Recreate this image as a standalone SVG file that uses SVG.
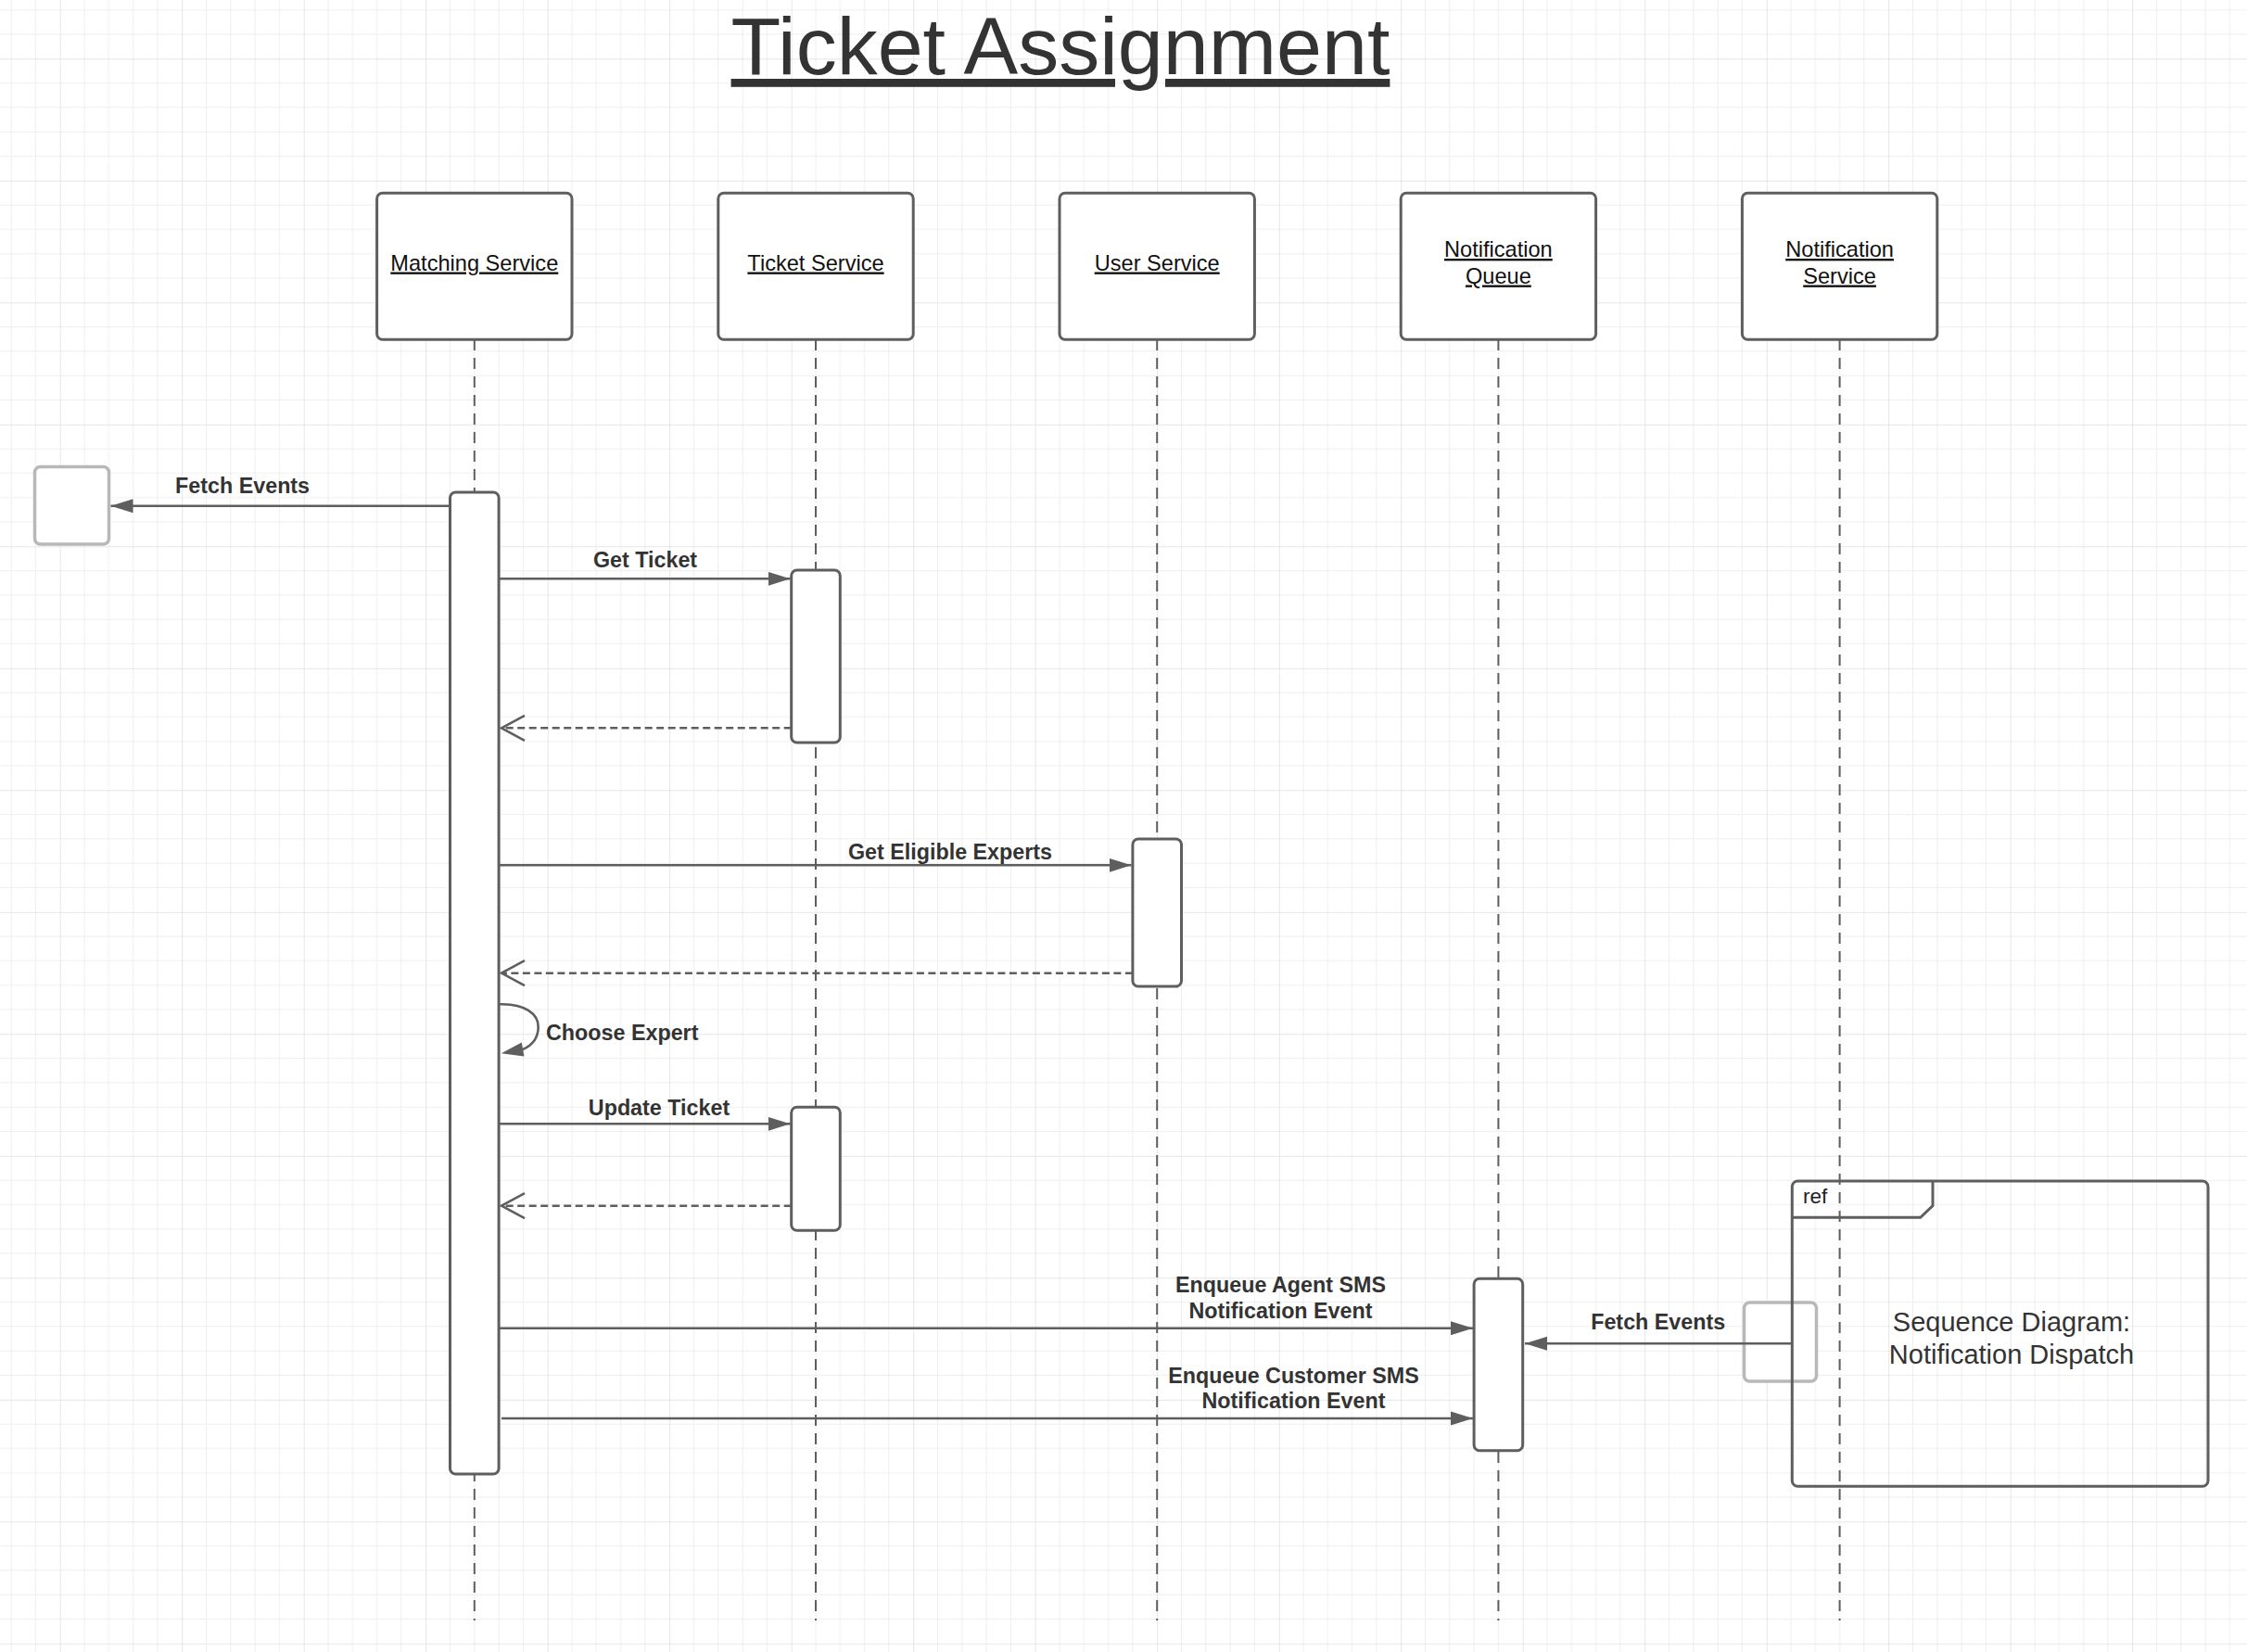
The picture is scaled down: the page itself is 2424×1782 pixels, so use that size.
<svg xmlns="http://www.w3.org/2000/svg" width="2424" height="1782" viewBox="0 0 2424 1782">
<defs>
<style>
.box{fill:#ffffff;stroke:#5e5e5e;stroke-width:3}
.act{fill:#ffffff;stroke:#5e5e5e;stroke-width:3}
.ghost{fill:#ffffff;stroke:#b8b8b8;stroke-width:3.5}
.life{fill:none;stroke:#5e5e5e;stroke-width:2;stroke-dasharray:12 8}
.msg{fill:none;stroke:#5e5e5e;stroke-width:2.6}
.ret{fill:none;stroke:#5e5e5e;stroke-width:2.6;stroke-dasharray:8 4.5}
.plabel{font-family:"Liberation Sans",Arial,sans-serif;font-size:23.6px;fill:#111111;text-anchor:middle;text-decoration:underline;text-decoration-skip-ink:none}
.mlabel{font-family:"Liberation Sans",Arial,sans-serif;font-size:23.3px;font-weight:bold;fill:#333333;text-anchor:middle}
.title{font-family:"Liberation Sans",Arial,sans-serif;font-size:88px;fill:#333333;text-anchor:middle;text-decoration:underline;text-decoration-skip-ink:none}
.reftext{font-family:"Liberation Sans",Arial,sans-serif;font-size:29px;fill:#333333;text-anchor:middle}
</style>
<pattern id="grid" patternUnits="userSpaceOnUse" x="64.7" y="63.3" width="131.5" height="131.5">
<path d="M26.3,0 V131.5 M52.6,0 V131.5 M78.9,0 V131.5 M105.2,0 V131.5 M0,26.3 H131.5 M0,52.6 H131.5 M0,78.9 H131.5 M0,105.2 H131.5" stroke="#eeeeee" stroke-width="1" fill="none"/>
<path d="M0,0 V131.5 M0,0 H131.5" stroke="#dedede" stroke-width="1.5" fill="none"/>
</pattern>
<marker id="filled" markerUnits="userSpaceOnUse" viewBox="0 0 25 16" markerWidth="25" markerHeight="16" refX="24" refY="8" orient="auto">
<path d="M0,0.5 L24,8 L0,15.5 Z" fill="#5e5e5e"/>
</marker>
<marker id="open" markerUnits="userSpaceOnUse" viewBox="0 0 28 30" markerWidth="28" markerHeight="30" refX="26" refY="15" orient="auto">
<path d="M1,1.5 L26,15 L1,28.5" fill="none" stroke="#5e5e5e" stroke-width="2.5"/>
</marker>
</defs>
<rect width="2424" height="1782" fill="#ffffff"/>
<rect width="2424" height="1782" fill="url(#grid)"/>

<g id="title">
<text class="title" x="1144" y="80">Ticket Assignment</text>
</g>

<g id="p-matching">
<line class="life" x1="511.8" y1="366" x2="511.8" y2="1748"/>
<rect class="box" x="406.6" y="208.3" width="210.4" height="158" rx="6"/>
<text class="plabel" x="511.8" y="291.5">Matching Service</text>
</g>
<g id="p-ticket">
<line class="life" x1="880" y1="366" x2="880" y2="1748"/>
<rect class="box" x="774.8" y="208.3" width="210.4" height="158" rx="6"/>
<text class="plabel" x="880" y="291.5">Ticket Service</text>
</g>
<g id="p-user">
<line class="life" x1="1248.2" y1="366" x2="1248.2" y2="1748"/>
<rect class="box" x="1143" y="208.3" width="210.4" height="158" rx="6"/>
<text class="plabel" x="1248.2" y="291.5">User Service</text>
</g>
<g id="p-queue">
<line class="life" x1="1616.4" y1="366" x2="1616.4" y2="1748"/>
<rect class="box" x="1511.2" y="208.3" width="210.4" height="158" rx="6"/>
<text class="plabel" x="1616.4" y="277">Notification</text>
<text class="plabel" x="1616.4" y="305.5">Queue</text>
</g>
<g id="p-notif">
<line class="life" x1="1984.6" y1="366" x2="1984.6" y2="1748"/>
<rect class="box" x="1879.4" y="208.3" width="210.4" height="158" rx="6"/>
<text class="plabel" x="1984.6" y="277">Notification</text>
<text class="plabel" x="1984.6" y="305.5">Service</text>
</g>

<g id="ext-left">
<rect class="ghost" x="37.5" y="503.5" width="80" height="83.5" rx="6"/>
</g>

<g id="act-matching"><rect class="act" x="485.5" y="531" width="52.6" height="1059" rx="6"/></g>
<g id="act-ticket-1"><rect class="act" x="853.7" y="615" width="52.6" height="186" rx="6"/></g>
<g id="act-user"><rect class="act" x="1221.9" y="905" width="52.6" height="159" rx="6"/></g>
<g id="act-ticket-2"><rect class="act" x="853.7" y="1194.3" width="52.6" height="133" rx="6"/></g>
<g id="act-queue"><rect class="act" x="1590.1" y="1379.3" width="52.6" height="185.5" rx="6"/></g>

<g id="ext-right">
<rect class="ghost" x="1881.5" y="1405" width="78" height="85" rx="6"/>
</g>

<g id="ref-frame">
<path d="M1939.3,1274 H2376 A6,6 0 0 1 2382,1280 V1597.3 A6,6 0 0 1 2376,1603.3 H1939.3 A6,6 0 0 1 1933.3,1597.3 V1280 A6,6 0 0 1 1939.3,1274 Z" fill="none" stroke="#5e5e5e" stroke-width="3"/>
<path d="M2085,1274 V1300.7 L2071.7,1313.3 H1933.3" fill="none" stroke="#5e5e5e" stroke-width="3"/>
<text x="1945" y="1298.3" font-family="Liberation Sans, Arial, sans-serif" font-size="22.5" fill="#222222">ref</text>
<text class="reftext" x="2170" y="1436">Sequence Diagram:</text>
<text class="reftext" x="2170" y="1471">Notification Dispatch</text>
</g>

<g id="connectors">
<line class="msg" x1="485.5" y1="545.7" x2="119.5" y2="545.7" marker-end="url(#filled)"/>
<text class="mlabel" x="261.6" y="531.7">Fetch Events</text>

<line class="msg" x1="538.1" y1="624.3" x2="852.5" y2="624.3" marker-end="url(#filled)"/>
<text class="mlabel" x="696" y="611.7">Get Ticket</text>

<line class="ret" x1="853.7" y1="785.3" x2="541" y2="785.3" marker-end="url(#open)"/>

<line class="msg" x1="538.1" y1="933.3" x2="1220.5" y2="933.3" marker-end="url(#filled)"/>
<text class="mlabel" x="1025" y="926.5">Get Eligible Experts</text>

<line class="ret" x1="1221.9" y1="1049.7" x2="541" y2="1049.7" marker-end="url(#open)"/>

<path class="msg" d="M538.1,1083.3 C566,1082 581,1094 580.7,1108 C580.5,1120 573,1128 564,1132"/>
<polygon points="540.7,1136.3 562.7,1124.5 565.5,1139.5" fill="#5e5e5e"/>
<text class="mlabel" x="589" y="1122.3" style="text-anchor:start">Choose Expert</text>

<line class="msg" x1="538.1" y1="1212.3" x2="852.5" y2="1212.3" marker-end="url(#filled)"/>
<text class="mlabel" x="711" y="1202.8">Update Ticket</text>

<line class="ret" x1="853.7" y1="1300.7" x2="541" y2="1300.7" marker-end="url(#open)"/>

<line class="msg" x1="538.1" y1="1432.7" x2="1589" y2="1432.7" marker-end="url(#filled)"/>
<text class="mlabel" x="1381.5" y="1394.3">Enqueue Agent SMS</text>
<text class="mlabel" x="1381.5" y="1422.3">Notification Event</text>

<line class="msg" x1="541" y1="1530" x2="1589" y2="1530" marker-end="url(#filled)"/>
<text class="mlabel" x="1395.5" y="1491.7">Enqueue Customer SMS</text>
<text class="mlabel" x="1395.5" y="1519.3">Notification Event</text>

<line class="msg" x1="1933.3" y1="1449.3" x2="1645" y2="1449.3" marker-end="url(#filled)"/>
<text class="mlabel" x="1788.7" y="1434">Fetch Events</text>
</g>
</svg>
